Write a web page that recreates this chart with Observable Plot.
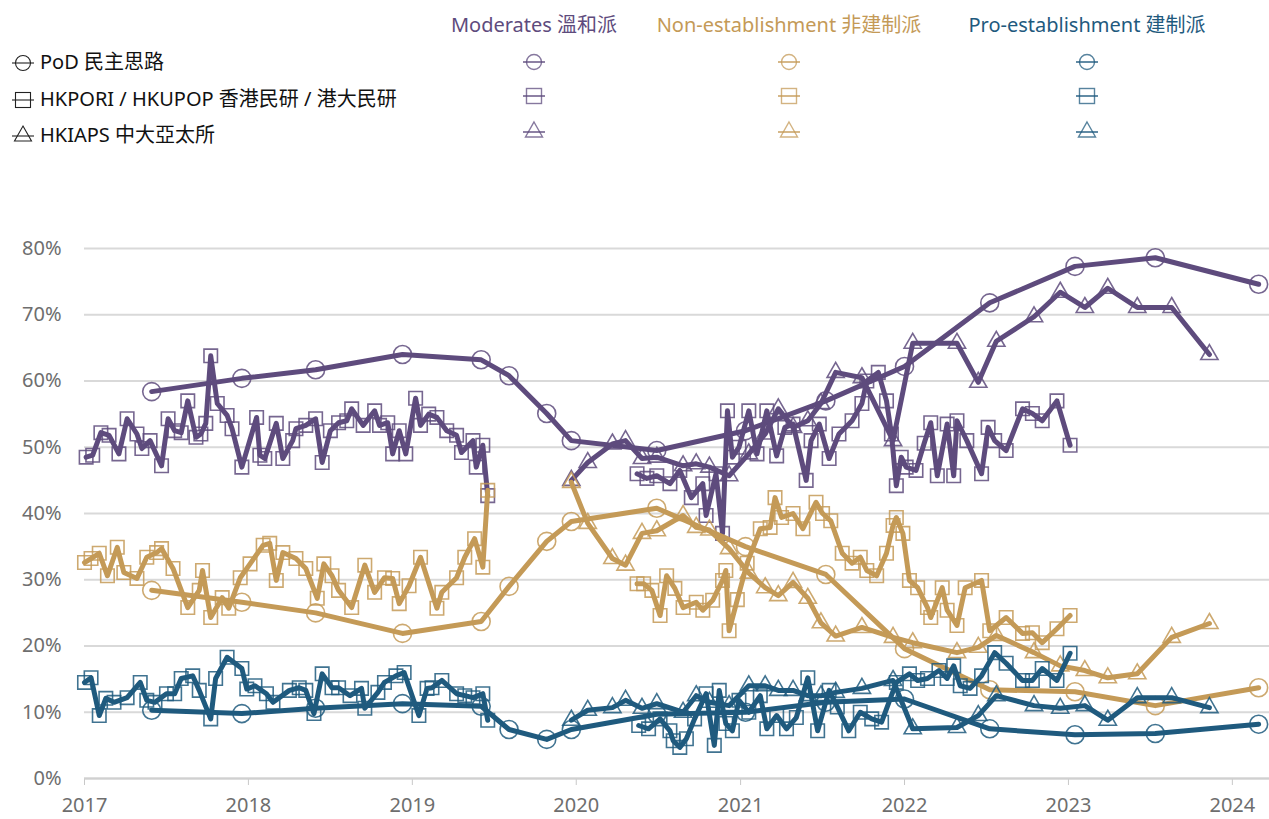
<!DOCTYPE html>
<html><head><meta charset="utf-8">
<script src="https://cdn.jsdelivr.net/npm/d3@7"></script>
<script src="https://cdn.jsdelivr.net/npm/@observablehq/plot@0.6"></script>
<style>
body{margin:0;background:#fff;font-family:"Noto Sans","Noto Sans CJK TC",sans-serif;}
#wrap{position:relative;width:1269px;height:819px;overflow:hidden;background:#fff}
#legend{position:absolute;left:0;top:0;width:1269px;height:200px}
#chart{position:absolute;left:0;top:200px}
.lg{position:absolute;font-size:20px;white-space:nowrap;line-height:20px}
.hd{position:absolute;font-size:20px;white-space:nowrap;line-height:20px;transform:translateX(-50%)}
.sym{position:absolute}
</style></head><body>
<div id="wrap"><div id="legend"></div><div id="chart"></div></div>
<script>
// ---------- categories ----------
const camps = ["Moderates 溫和派", "Non-establishment 非建制派", "Pro-establishment 建制派"];
const campColors = ["#5e4b7d", "#c49a57", "#1f5a7e"];
const pollsters = ["PoD 民主思路", "HKPORI / HKUPOP 香港民研 / 港大民研", "HKIAPS 中大亞太所"];
const pollsterSymbols = ["circle", "square", "triangle"];
const yTicks = [0, 10, 20, 30, 40, 50, 60, 70, 80];
const xTickYears = [2017, 2018, 2019, 2020, 2021, 2022, 2023, 2024];

// ---------- PoD (decimal years) ----------
const podYears     = [2017.41, 2017.96, 2018.41, 2018.94, 2019.42, 2019.59, 2019.82, 2019.97, 2020.49, 2021.03, 2021.52, 2022.00, 2022.52, 2023.04, 2023.53, 2024.16];
const podModerates = [58.4, 60.4, 61.7, 64.0, 63.2, 60.8, 55.1, 51.0, 49.5, 52.5, 57.0, 62.2, 71.8, 77.3, 78.6, 74.6];
const podNonEst    = [28.4, 26.6, 25.0, 21.9, 23.7, 29.0, 35.8, 38.8, 40.8, 35.0, 30.8, 19.6, 13.4, 13.1, 11.0, 13.7];
const podProEst    = [10.3, 9.8, 10.6, 11.3, 10.9, 7.4, 5.9, 7.4, 9.7, 10.0, 11.5, 12.0, 7.5, 6.6, 6.8, 8.2];

// ---------- HKIAPS ----------
const iapsYears     = [2019.97, 2020.07, 2020.22, 2020.30, 2020.40, 2020.49, 2020.65, 2020.73, 2020.81, 2020.93, 2021.05, 2021.15, 2021.23, 2021.32, 2021.41, 2021.49, 2021.58, 2021.74, 2021.93, 2022.05, 2022.32, 2022.45, 2022.56, 2022.79, 2022.95, 2023.10, 2023.24, 2023.42, 2023.63, 2023.86];
const iapsModerates = [45.0, 47.7, 50.5, 51.0, 48.3, 48.5, 47.2, 47.5, 47.0, 45.7, 49.0, 52.0, 55.8, 53.0, 54.0, 56.6, 61.3, 60.5, 51.0, 65.7, 65.7, 59.8, 66.0, 69.7, 73.4, 71.1, 74.0, 71.1, 71.1, 64.0];
const iapsNonEst    = [44.7, 38.5, 33.2, 32.2, 37.0, 37.4, 39.7, 37.9, 37.5, 34.7, 31.0, 28.8, 27.6, 29.6, 27.2, 23.5, 21.5, 22.8, 21.3, 20.5, 19.0, 19.8, 21.6, 19.0, 17.0, 16.3, 15.2, 15.8, 21.3, 23.4];
const iapsProEst    = [8.8, 10.3, 10.7, 11.8, 10.6, 11.3, 10.0, 12.5, 11.5, 11.0, 14.0, 14.0, 13.3, 13.3, 12.5, 12.5, 13.0, 13.6, 14.8, 7.5, 7.7, 9.5, 12.5, 11.0, 10.6, 11.0, 8.8, 12.2, 12.2, 10.7];

// ---------- HKUPOP (2017 - mid 2019) [year, %] ----------
const hkupopModerates = [[2017.01,48.5],[2017.05,48.8],[2017.10,52.2],[2017.15,51.8],[2017.21,49.0],[2017.26,54.3],[2017.32,52.0],[2017.35,49.8],[2017.40,51.0],[2017.47,47.2],[2017.51,54.3],[2017.55,52.5],[2017.59,52.2],[2017.63,57.0],[2017.68,51.5],[2017.71,52.0],[2017.74,53.6],[2017.77,63.8],[2017.81,56.6],[2017.87,54.8],[2017.90,52.8],[2017.96,47.0],[2018.05,54.5],[2018.07,48.8],[2018.10,48.3],[2018.17,53.6],[2018.21,48.3],[2018.27,51.0],[2018.29,52.8],[2018.35,53.3],[2018.41,54.3],[2018.45,47.7],[2018.50,52.5],[2018.55,53.7],[2018.60,54.0],[2018.63,55.8],[2018.70,53.3],[2018.77,55.5],[2018.80,53.3],[2018.85,53.7],[2018.88,49.0],[2018.92,52.5],[2018.96,49.0],[2019.02,57.4],[2019.05,53.3],[2019.10,55.0],[2019.15,54.5],[2019.21,52.5],[2019.27,51.8],[2019.30,49.2],[2019.37,51.0],[2019.39,47.0],[2019.43,50.3],[2019.46,42.7]];
const hkupopNonEst = [[2017.00,32.6],[2017.04,33.2],[2017.09,34.0],[2017.14,30.6],[2017.20,34.9],[2017.24,31.1],[2017.32,30.2],[2017.38,33.4],[2017.44,34.1],[2017.47,34.7],[2017.54,31.7],[2017.63,25.8],[2017.70,28.4],[2017.72,31.4],[2017.77,24.3],[2017.84,27.3],[2017.88,25.7],[2017.95,30.3],[2018.01,32.4],[2018.09,35.2],[2018.13,35.5],[2018.17,29.9],[2018.21,34.1],[2018.29,33.2],[2018.35,31.7],[2018.42,27.2],[2018.46,32.4],[2018.51,30.6],[2018.55,28.4],[2018.63,25.8],[2018.71,32.2],[2018.77,28.1],[2018.83,30.3],[2018.88,30.2],[2018.92,26.4],[2018.98,29.1],[2019.05,33.4],[2019.15,25.7],[2019.18,28.1],[2019.27,30.3],[2019.32,33.4],[2019.38,36.2],[2019.43,31.9],[2019.46,43.5]];
const hkupopProEst = [[2017.00,14.5],[2017.04,15.2],[2017.09,9.5],[2017.13,12.1],[2017.18,11.5],[2017.26,12.2],[2017.34,14.5],[2017.38,11.8],[2017.43,11.5],[2017.50,12.8],[2017.55,12.8],[2017.59,15.1],[2017.66,15.5],[2017.70,13.3],[2017.77,9.0],[2017.80,15.1],[2017.87,18.3],[2017.96,16.6],[2017.99,13.5],[2018.04,14.0],[2018.11,12.8],[2018.15,11.5],[2018.25,13.3],[2018.31,13.7],[2018.35,13.3],[2018.40,9.8],[2018.45,15.8],[2018.51,13.7],[2018.55,13.7],[2018.62,12.5],[2018.69,13.6],[2018.71,10.6],[2018.79,13.0],[2018.83,14.5],[2018.90,15.5],[2018.95,16.0],[2019.04,9.5],[2019.09,13.6],[2019.12,13.7],[2019.18,14.8],[2019.27,12.8],[2019.32,12.5],[2019.37,12.2],[2019.43,12.8],[2019.46,8.8]];

// ---------- HKPORI (mid 2020 - 2023) [year, %] ----------
const hkporiModerates = [[2020.37,46.0],[2020.43,45.3],[2020.49,45.7],[2020.57,44.5],[2020.63,46.5],[2020.70,42.4],[2020.77,44.5],[2020.79,39.7],[2020.85,46.0],[2020.89,37.0],[2020.92,55.5],[2020.95,48.5],[2020.99,50.0],[2021.05,55.5],[2021.10,49.0],[2021.16,55.5],[2021.22,48.7],[2021.27,53.0],[2021.32,53.5],[2021.40,45.0],[2021.43,51.0],[2021.48,53.5],[2021.54,48.3],[2021.60,52.0],[2021.68,54.0],[2021.74,56.6],[2021.77,60.0],[2021.84,61.3],[2021.89,57.0],[2021.92,52.0],[2021.95,44.2],[2021.98,48.5],[2022.01,47.0],[2022.07,46.5],[2022.12,50.6],[2022.16,53.7],[2022.20,45.7],[2022.26,53.5],[2022.30,45.7],[2022.32,54.0],[2022.38,51.0],[2022.47,46.0],[2022.51,53.0],[2022.55,51.0],[2022.62,49.5],[2022.72,55.8],[2022.78,55.1],[2022.84,54.0],[2022.93,57.0],[2023.01,50.3]];
const hkporiNonEst = [[2020.37,29.4],[2020.41,29.4],[2020.46,28.4],[2020.51,24.6],[2020.55,30.6],[2020.60,28.7],[2020.65,25.8],[2020.73,26.6],[2020.77,25.4],[2020.83,26.9],[2020.89,29.9],[2020.91,31.4],[2020.93,22.3],[2020.98,27.0],[2021.04,32.5],[2021.12,37.7],[2021.18,37.9],[2021.21,42.4],[2021.25,39.4],[2021.32,40.0],[2021.38,37.7],[2021.46,41.7],[2021.50,40.0],[2021.55,38.9],[2021.62,34.0],[2021.68,32.5],[2021.73,33.4],[2021.77,31.4],[2021.83,30.6],[2021.89,34.0],[2021.93,38.2],[2021.95,39.4],[2021.99,37.0],[2022.03,29.9],[2022.08,28.8],[2022.14,25.8],[2022.16,24.3],[2022.23,28.8],[2022.26,25.4],[2022.32,23.1],[2022.37,28.8],[2022.47,29.9],[2022.52,22.3],[2022.62,24.3],[2022.72,21.9],[2022.78,22.0],[2022.84,20.5],[2022.93,22.6],[2023.01,24.6]];
const hkporiProEst = [[2020.38,8.0],[2020.44,7.5],[2020.51,9.0],[2020.57,7.2],[2020.59,5.7],[2020.63,4.7],[2020.67,6.0],[2020.72,9.0],[2020.79,12.8],[2020.84,5.0],[2020.87,13.3],[2020.91,8.3],[2020.95,7.2],[2020.99,11.8],[2021.05,10.0],[2021.12,12.5],[2021.16,7.5],[2021.22,9.5],[2021.28,7.5],[2021.34,9.2],[2021.41,15.2],[2021.47,7.2],[2021.54,13.3],[2021.59,10.8],[2021.66,7.2],[2021.73,10.0],[2021.80,9.0],[2021.86,8.5],[2021.95,14.5],[2022.03,15.8],[2022.08,14.8],[2022.14,15.1],[2022.21,16.3],[2022.26,15.1],[2022.30,17.0],[2022.34,14.0],[2022.40,13.6],[2022.47,15.5],[2022.55,19.0],[2022.62,17.4],[2022.72,14.8],[2022.78,14.8],[2022.84,16.6],[2022.93,14.8],[2023.01,18.9]];

// ---------- build table ----------
function yearToDate(y) {
  const yr = Math.floor(y);
  const a = Date.UTC(yr, 0, 1), b = Date.UTC(yr + 1, 0, 1);
  return new Date(a + (y - yr) * (b - a));
}
const series = [];
function addSeries(p, c, seg, pairs) {
  series.push({pollster: p, camp: c, key: `${p}-${c}-${seg}`,
    rows: pairs.map(([y, v]) => ({date: yearToDate(y), value: v}))});
}
const zip = (ys, vs) => ys.map((y, i) => [y, vs[i]]);
[podModerates, podNonEst, podProEst].forEach((vals, c) => addSeries(0, c, "a", zip(podYears, vals)));
[hkupopModerates, hkupopNonEst, hkupopProEst].forEach((pairs, c) => addSeries(1, c, "a", pairs));
[hkporiModerates, hkporiNonEst, hkporiProEst].forEach((pairs, c) => addSeries(1, c, "b", pairs));
[iapsModerates, iapsNonEst, iapsProEst].forEach((vals, c) => addSeries(2, c, "a", zip(iapsYears, vals)));

const symR = [9, 7.6, 6.4];
const marks = [
  Plot.gridY(yTicks, {stroke: "#d9d9d9", strokeOpacity: 1, strokeWidth: 2}),
  Plot.axisY(yTicks, {label: null, tickSize: 0, tickPadding: 23, tickFormat: d => d + "%", fontSize: 20, fill: "#6e6e6e"}),
  Plot.axisX(xTickYears.map(y => yearToDate(y)), {label: null, tickFormat: d3.utcFormat("%Y"), tickSize: 7, tickPadding: 12, stroke: "#c8c8c8", fontSize: 20, fill: "#6e6e6e"}),
  Plot.ruleY([0], {stroke: "#d0d0d0", strokeWidth: 2})
];
for (let c = 0; c < 3; c++) {
  for (const s of series.filter(s => s.camp === c)) {
    marks.push(Plot.dot(s.rows, {x: "date", y: "value", symbol: pollsterSymbols[s.pollster], r: symR[s.pollster],
      stroke: campColors[c], strokeOpacity: 0.85, strokeWidth: 1.6, fill: "none"}));
    marks.push(Plot.line(s.rows, {x: "date", y: "value", stroke: campColors[c], strokeWidth: 5,
      strokeLinejoin: "round", strokeLinecap: "round"}));
  }
}

const chart = Plot.plot({
  width: 1269, height: 619,
  marginLeft: 84, marginRight: 0, marginTop: 48, marginBottom: 41,
  x: {type: "utc", domain: [yearToDate(2017.0), yearToDate(2024.226)]},
  y: {domain: [0, 80]},
  style: {fontFamily: '"Noto Sans","Noto Sans CJK TC",sans-serif', fontSize: "20px", background: "white", overflow: "visible"},
  marks
});
document.getElementById("chart").appendChild(chart);

// ---------- legend ----------
function symSvg(kind, color, op, sw) {
  let shape;
  if (kind === "circle") shape = `<circle r="7.5" cy="0"/>`;
  else if (kind === "square") shape = `<rect x="-7.5" y="-7.5" width="15" height="15"/>`;
  else shape = `<path d="M0,-10L8.5,5H-8.5Z"/>`;
  return `<svg width="24" height="24" viewBox="-12 -12 24 24"><g fill="none" stroke="${color}" stroke-opacity="${op}" stroke-width="${sw}">${shape}</g><line x1="-11" x2="11" y1="0" y2="0" stroke="${color}" stroke-width="${sw}"/></svg>`;
}
const lg = document.getElementById("legend");
const colX = [534, 789, 1087];
camps.forEach((t, i) => {
  const d = document.createElement("div");
  d.className = "hd"; d.style.left = colX[i] + "px"; d.style.top = "15px";
  d.style.color = campColors[i]; d.textContent = t; lg.appendChild(d);
});
const leftRowY = [63, 100, 136];
const rightRowY = [62, 96, 132];
pollsters.forEach((p, r) => {
  const s = document.createElement("div");
  s.className = "sym"; s.style.left = (23 - 12) + "px"; s.style.top = (leftRowY[r] - 12) + "px";
  s.innerHTML = symSvg(pollsterSymbols[r], "#222", 1, 1.1); lg.appendChild(s);
  const d = document.createElement("div");
  d.className = "lg"; d.style.left = "40px"; d.style.top = (leftRowY[r] - 11) + "px";
  d.style.color = "#111"; d.textContent = p; lg.appendChild(d);
  camps.forEach((c, i) => {
    const m = document.createElement("div");
    m.className = "sym"; m.style.left = (colX[i] - 12) + "px"; m.style.top = (rightRowY[r] - 12) + "px";
    m.innerHTML = symSvg(pollsterSymbols[r], campColors[i], 0.75, 1.4); lg.appendChild(m);
  });
});
</script>
</body></html>
